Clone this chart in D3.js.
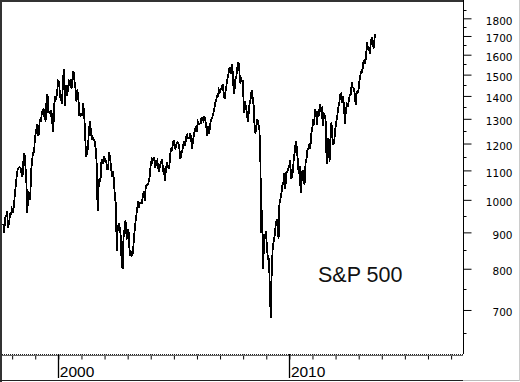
<!DOCTYPE html>
<html><head><meta charset="utf-8">
<script src="https://cdn.jsdelivr.net/npm/d3@7"></script>
<style>body{margin:0;background:#fff}svg{display:block}</style>
</head><body><svg id="c" width="520" height="382"></svg>
<script>
// ---- data (semi-monthly closes) ----
const yTicks = [700, 800, 900, 1000, 1100, 1200, 1300, 1400, 1500, 1600, 1700, 1800];
const yMinorTicks = [650, 750, 850, 950, 1050, 1150, 1250, 1350, 1450, 1550, 1650, 1750, 1850];
const xTickYears = [1998, 1999, 2000, 2001, 2002, 2003, 2004, 2005, 2006, 2007, 2008, 2009, 2010, 2011, 2012, 2013, 2014, 2015, 2016, 2017];
const xLabelYears = [2000, 2010];
const seriesLabel = "S&P 500";

const sp1997 = [925, 899, 945, 947, 965, 914, 928, 955, 955, 970]; // from Aug
const sp1998 = [960, 980, 1020, 1049, 1080, 1102, 1110, 1112, 1108, 1091, 1077, 1134, 1165, 1121, 1063, 957, 1030, 1017, 1000, 1098, 1140, 1164, 1165, 1229];
const sp1999 = [1243, 1280, 1230, 1238, 1300, 1286, 1320, 1335, 1340, 1302, 1295, 1373, 1410, 1329, 1330, 1320, 1336, 1283, 1247, 1362, 1394, 1389, 1418, 1469];
const sp2000 = [1465, 1394, 1387, 1366, 1464, 1527, 1356, 1452, 1400, 1421, 1464, 1455, 1480, 1431, 1492, 1518, 1465, 1437, 1374, 1429, 1389, 1315, 1312, 1320];
const sp2001 = [1318, 1366, 1315, 1240, 1150, 1160, 1183, 1249, 1290, 1256, 1214, 1224, 1215, 1211, 1178, 1134, 966, 1041, 1073, 1060, 1139, 1139, 1124, 1148];
const sp2002 = [1140, 1130, 1105, 1106, 1166, 1147, 1110, 1077, 1097, 1067, 1007, 990, 847, 912, 928, 916, 889, 815, 800, 886, 910, 936, 890, 880];
const sp2003 = [910, 856, 834, 841, 833, 848, 890, 917, 945, 964, 995, 975, 990, 990, 990, 1008, 1030, 996, 1040, 1050, 1050, 1058, 1075, 1112];
const sp2004 = [1139, 1131, 1146, 1145, 1110, 1126, 1135, 1107, 1095, 1121, 1130, 1141, 1100, 1102, 1064, 1104, 1128, 1115, 1104, 1130, 1184, 1174, 1194, 1212];
const sp2005 = [1184, 1181, 1201, 1204, 1200, 1181, 1143, 1157, 1173, 1192, 1210, 1191, 1227, 1234, 1220, 1220, 1237, 1229, 1178, 1207, 1235, 1250, 1270, 1248];
const sp2006 = [1287, 1280, 1280, 1281, 1307, 1295, 1290, 1311, 1292, 1270, 1230, 1270, 1236, 1277, 1298, 1304, 1319, 1336, 1365, 1378, 1400, 1400, 1427, 1418];
const sp2007 = [1430, 1438, 1456, 1407, 1387, 1421, 1452, 1482, 1505, 1530, 1533, 1503, 1553, 1455, 1411, 1474, 1484, 1527, 1561, 1549, 1458, 1481, 1468, 1468];
const sp2008 = [1325, 1378, 1349, 1331, 1288, 1323, 1370, 1386, 1425, 1400, 1360, 1280, 1240, 1267, 1298, 1283, 1255, 1166, 899, 968, 800, 896, 880, 903];
const sp2009 = [850, 826, 826, 735, 683, 798, 860, 873, 890, 919, 940, 919, 880, 987, 1005, 1021, 1050, 1057, 1090, 1036, 1093, 1095, 1106, 1115];
const sp2010 = [1136, 1074, 1075, 1104, 1150, 1169, 1211, 1187, 1136, 1089, 1117, 1022, 1065, 1102, 1080, 1049, 1125, 1141, 1176, 1183, 1200, 1180, 1240, 1258];
const sp2011 = [1293, 1286, 1340, 1327, 1273, 1326, 1320, 1364, 1338, 1345, 1271, 1321, 1316, 1292, 1124, 1219, 1216, 1131, 1224, 1285, 1216, 1195, 1219, 1258];
const sp2012 = [1290, 1312, 1350, 1366, 1404, 1408, 1370, 1398, 1353, 1278, 1342, 1362, 1356, 1379, 1405, 1406, 1465, 1441, 1433, 1412, 1360, 1416, 1413, 1426];
const sp2013 = [1472, 1498, 1520, 1515, 1560, 1569, 1555, 1598, 1667, 1631, 1626, 1606, 1680, 1686, 1655, 1633, 1710];

const yearBlocks = [
  {year: 1997, startMonth: 7, values: sp1997},
  {year: 1998, startMonth: 0, values: sp1998},
  {year: 1999, startMonth: 0, values: sp1999},
  {year: 2000, startMonth: 0, values: sp2000},
  {year: 2001, startMonth: 0, values: sp2001},
  {year: 2002, startMonth: 0, values: sp2002},
  {year: 2003, startMonth: 0, values: sp2003},
  {year: 2004, startMonth: 0, values: sp2004},
  {year: 2005, startMonth: 0, values: sp2005},
  {year: 2006, startMonth: 0, values: sp2006},
  {year: 2007, startMonth: 0, values: sp2007},
  {year: 2008, startMonth: 0, values: sp2008},
  {year: 2009, startMonth: 0, values: sp2009},
  {year: 2010, startMonth: 0, values: sp2010},
  {year: 2011, startMonth: 0, values: sp2011},
  {year: 2012, startMonth: 0, values: sp2012},
  {year: 2013, startMonth: 0, values: sp2013}
];
const series = [];
yearBlocks.forEach(b => b.values.forEach((v, i) => {
  series.push({date: new Date(b.year, b.startMonth + Math.floor(i / 2), i % 2 ? 28 : 14), value: v});
}));

// ---- layout ----
const svg = d3.select("#c");
const plotL = 2, plotR = 463, plotT = 2, plotB = 354;
const x = d3.scaleTime().domain([new Date(1997, 5, 23), new Date(2017, 6, 8)]).range([0, 463]);
const y = d3.scaleLog().domain([607, 1910]).range([354, 0]);

svg.append("defs").append("clipPath").attr("id", "clip")
  .append("rect").attr("x", plotL).attr("y", plotT).attr("width", plotR - plotL).attr("height", plotB - plotT);

// price line
const line = d3.line().x(d => x(d.date)).y(d => y(d.value));
svg.append("path").datum(series)
  .attr("clip-path", "url(#clip)")
  .attr("d", line).attr("fill", "none").attr("stroke", "#000")
  .attr("stroke-width", 1.8).attr("stroke-linejoin", "miter")
  .attr("shape-rendering", "crispEdges");

// right axis
const yAxis = d3.axisRight(y).tickValues(yTicks).tickSize(8).tickFormat(d3.format("d"));
const gy = svg.append("g").attr("transform", `translate(${plotR + 0.5},0)`).call(yAxis);
gy.select(".domain").attr("d", `M0,0V${plotB}`).attr("stroke", "#000");
gy.selectAll(".tick line").attr("stroke", "#000");
gy.selectAll(".tick text").attr("x", 49).attr("dy", "0.55em").attr("y", 0)
  .attr("text-anchor", "end")
  .style("font-family", "'DejaVu Sans', Verdana, sans-serif").style("font-size", "10.5px").attr("fill", "#000");
svg.append("g").attr("transform", `translate(${plotR + 0.5},0)`)
  .selectAll("line").data(yMinorTicks).join("line")
  .attr("x1", 0).attr("x2", 3).attr("y1", d => Math.round(y(d)) + 0.5).attr("y2", d => Math.round(y(d)) + 0.5)
  .attr("stroke", "#000");

// bottom axis
const xAxis = d3.axisBottom(x).tickValues(xTickYears.map(yr => new Date(yr, 0, 1))).tickSize(5).tickFormat("");
const gx = svg.append("g").attr("transform", `translate(0,${plotB + 0.5})`).call(xAxis);
gx.select(".domain").attr("d", `M0,0H${plotR}`).attr("stroke", "#222").attr("stroke-dasharray", "1,1");
gx.selectAll(".tick line").attr("stroke", "#000");
svg.append("line").attr("x1", 0).attr("x2", plotR).attr("y1", plotB + 1.5).attr("y2", plotB + 1.5).attr("stroke", "#666");

const gl = svg.append("g");
gl.selectAll("line").data(xLabelYears).join("line")
  .attr("x1", d => Math.round(x(new Date(d, 0, 1))) + 0.5).attr("x2", d => Math.round(x(new Date(d, 0, 1))) + 0.5)
  .attr("y1", plotB).attr("y2", 378).attr("stroke", "#000").attr("stroke-width", 1.3);
gl.selectAll("text").data(xLabelYears).join("text")
  .attr("x", d => x(new Date(d, 0, 1)) + 1.5).attr("y", 377)
  .style("font-family", "'Liberation Sans', Arial, sans-serif").style("font-size", "15.5px").attr("fill", "#000")
  .text(d => d);

// frame
svg.append("line").attr("x1", 1).attr("x2", 1).attr("y1", 0).attr("y2", 382).attr("stroke", "#333").attr("stroke-width", 2);
svg.append("line").attr("x1", 0).attr("x2", plotR).attr("y1", 1).attr("y2", 1).attr("stroke", "#333").attr("stroke-width", 2);
svg.append("line").attr("x1", 0).attr("x2", plotR).attr("y1", 380.5).attr("y2", 380.5).attr("stroke", "#222");
svg.append("line").attr("x1", plotR).attr("x2", 520).attr("y1", 380.5).attr("y2", 380.5).attr("stroke", "#bbb");
svg.append("line").attr("x1", 519.5).attr("x2", 519.5).attr("y1", 0).attr("y2", 381).attr("stroke", "#ccc");

// series label
svg.append("text").attr("x", 318).attr("y", 282)
  .style("font-family", "'Liberation Sans', Arial, sans-serif").style("font-size", "21.5px").attr("fill", "#111")
  .text(seriesLabel);
</script></body></html>
